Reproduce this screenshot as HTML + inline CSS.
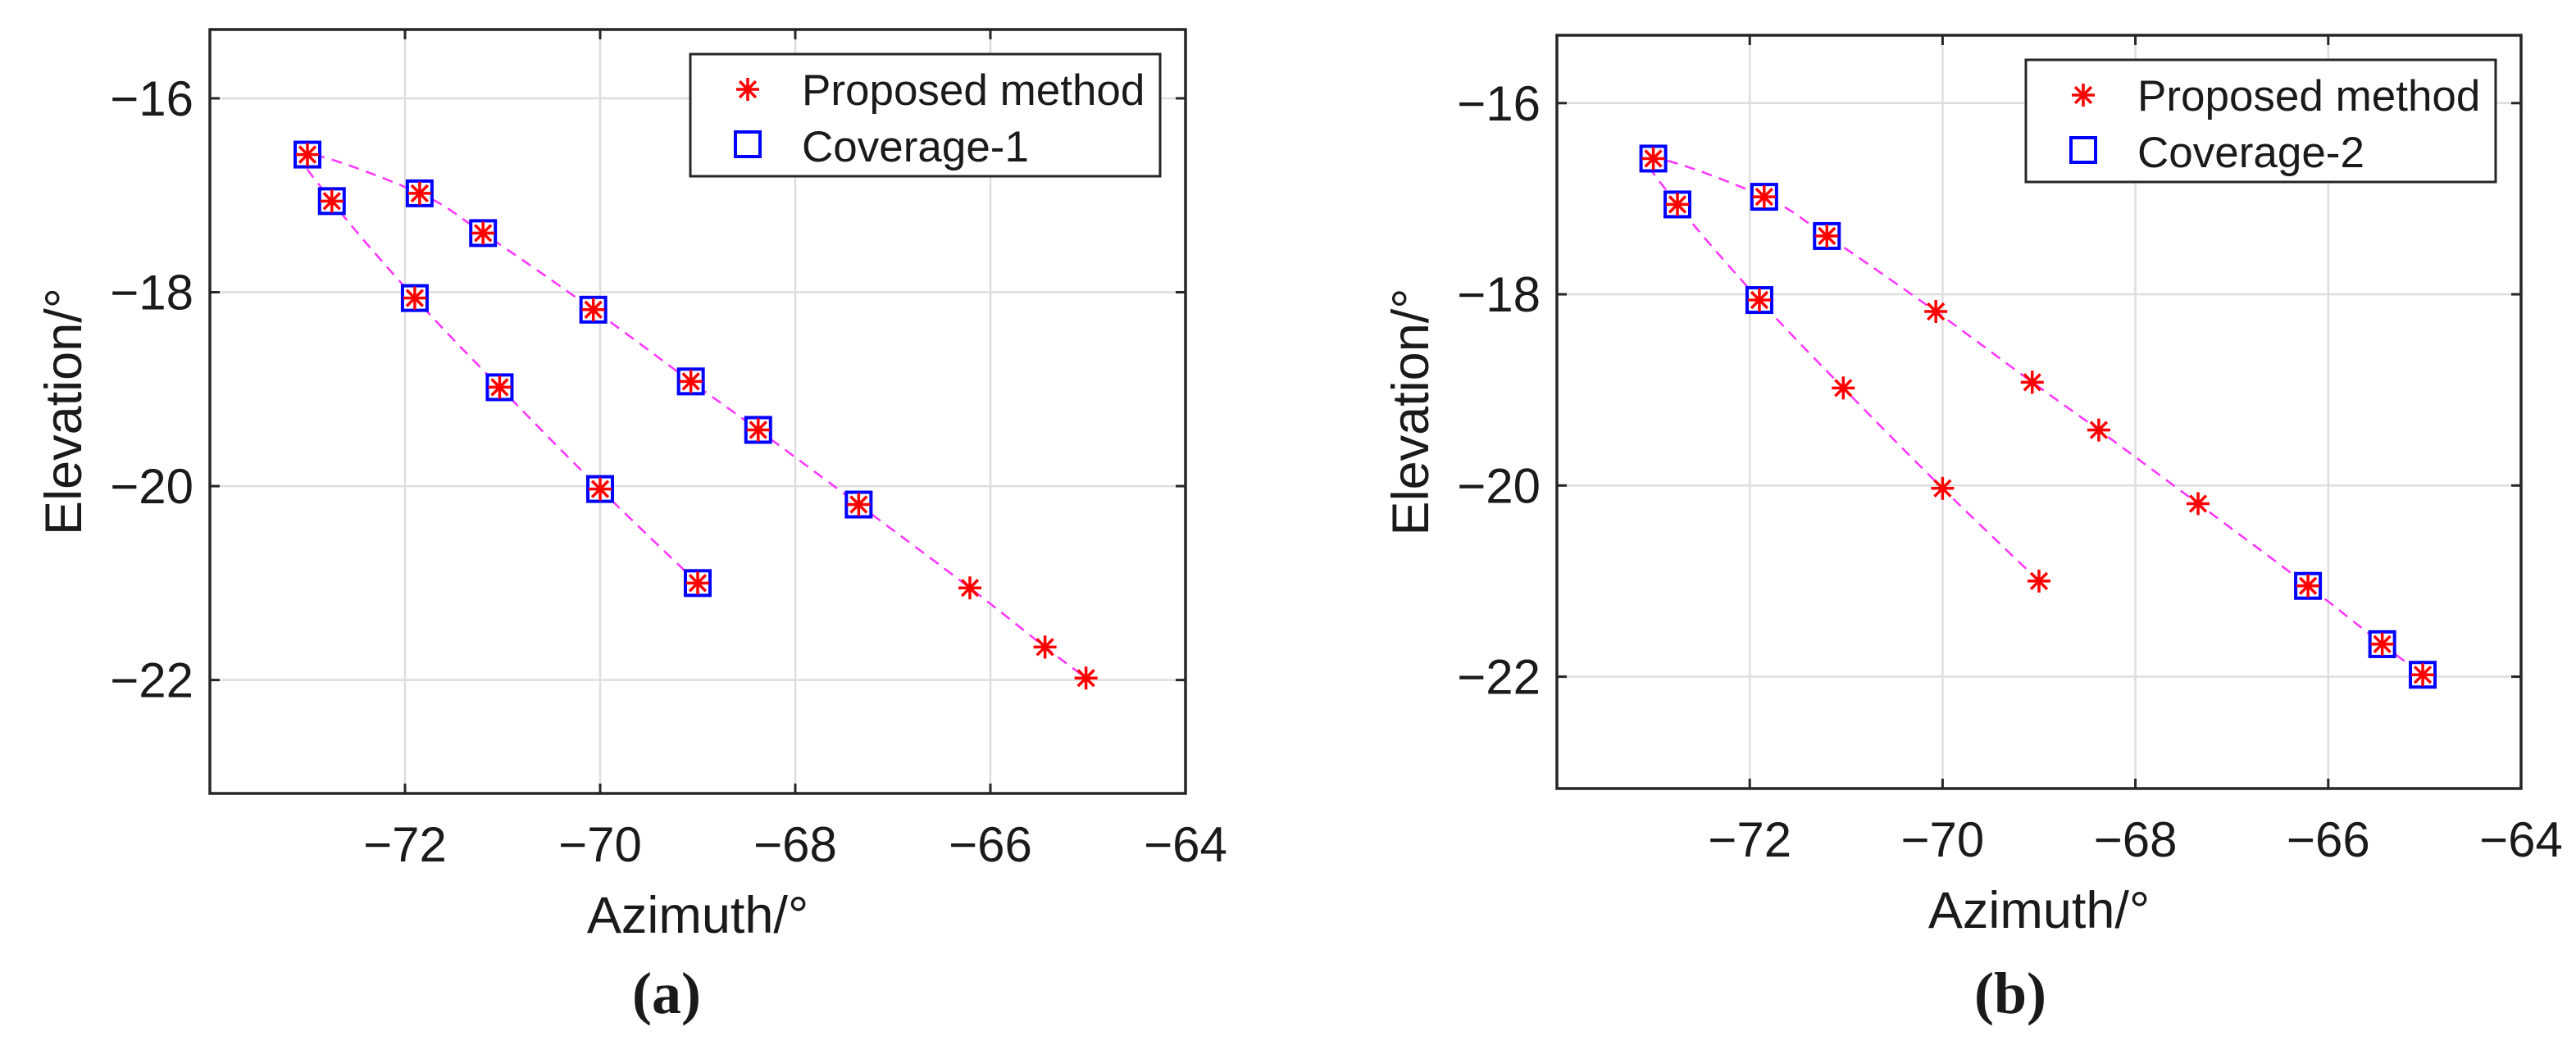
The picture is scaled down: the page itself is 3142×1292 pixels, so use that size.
<!DOCTYPE html>
<html><head><meta charset="utf-8">
<style>
html,body{margin:0;padding:0;background:#fff;}
svg{display:block;}
text{font-family:"Liberation Sans",Arial,sans-serif;fill:#1a1a1a;}
text.cap{font-family:"Liberation Serif","Times New Roman",serif;font-weight:bold;}
</style></head>
<body>
<svg id="fig" width="3142" height="1292" viewBox="0 0 3142 1292" xmlns="http://www.w3.org/2000/svg">
<text class="cap" x="813" y="1236" font-size="72" text-anchor="middle">(a)</text>
<text class="cap" x="2452" y="1236" font-size="72" text-anchor="middle">(b)</text>
</svg>
<script>
// Shared data
const xTicks = [-72, -70, -68, -66, -64];
const yTicks = [-16, -18, -20, -22];
const xTickLabels = ["\u221272", "\u221270", "\u221268", "\u221266", "\u221264"];
const yTickLabels = ["\u221216", "\u221218", "\u221220", "\u221222"];
// proposed method points: lower branch
const lowerAz = [-73.0, -72.75, -71.9, -71.03, -70.0, -69.0];
const lowerEl = [-16.58, -17.06, -18.06, -18.98, -20.03, -21.0];
// upper branch
const upperAz = [-71.85, -71.2, -70.07, -69.07, -68.38, -67.35, -66.21, -65.44, -65.02];
const upperEl = [-16.98, -17.39, -18.18, -18.92, -19.42, -20.19, -21.05, -21.66, -21.98];
// coverage points
const cov1Az = [-73.0, -72.75, -71.9, -71.03, -70.0, -69.0, -71.85, -71.2, -70.07, -69.07, -68.38, -67.35];
const cov1El = [-16.58, -17.06, -18.06, -18.98, -20.03, -21.0, -16.98, -17.39, -18.18, -18.92, -19.42, -20.19];
const cov2Az = [-73.0, -72.75, -71.9, -71.85, -71.2, -66.21, -65.44, -65.02];
const cov2El = [-16.58, -17.06, -18.06, -16.98, -17.39, -21.05, -21.66, -21.98];
const xDomain = [-74, -64];
const yDomain = [-23.17, -15.29];

const NS = "http://www.w3.org/2000/svg";
const svg = document.getElementById("fig");
function mk(tag, attrs, parent) {
  const e = document.createElementNS(NS, tag);
  for (const k in attrs) e.setAttribute(k, attrs[k]);
  (parent || svg).appendChild(e);
  return e;
}

function drawPanel(id, box, covAz, covEl, covLabel) {
  const g = mk("g", {});
  
  
  const sx = v => box.x0 + (v - xDomain[0]) / (xDomain[1] - xDomain[0]) * (box.x1 - box.x0);
  const sy = v => box.y1 - (v - yDomain[0]) / (yDomain[1] - yDomain[0]) * (box.y1 - box.y0);
  xTicks.forEach((t, i) => {
    const gl = mk("line", {x1: sx(t), x2: sx(t), y1: box.y0, y2: box.y1, stroke: "#dedede", "stroke-width": 2.5}, g);
    
    
  });
  yTicks.forEach((t, i) => {
    const gl = mk("line", {x1: box.x0, x2: box.x1, y1: sy(t), y2: sy(t), stroke: "#dedede", "stroke-width": 2.5}, g);
    
    
  });
  const px = [], py = [];
  for (let i = lowerAz.length - 1; i >= 0; i--) { px.push(sx(lowerAz[i])); py.push(sy(lowerEl[i])); }
  for (let i = 0; i < upperAz.length; i++) { px.push(sx(upperAz[i])); py.push(sy(upperEl[i])); }
  let d = "M" + px[0] + "," + py[0];
  for (let i = 0; i < px.length - 1; i++) {
    const p0x = px[Math.max(i - 1, 0)], p0y = py[Math.max(i - 1, 0)];
    const p3x = px[Math.min(i + 2, px.length - 1)], p3y = py[Math.min(i + 2, px.length - 1)];
    const c1x = px[i] + (px[i + 1] - p0x) / 6, c1y = py[i] + (py[i + 1] - p0y) / 6;
    const c2x = px[i + 1] - (p3x - px[i]) / 6, c2y = py[i + 1] - (p3y - py[i]) / 6;
    d += " C" + c1x + "," + c1y + " " + c2x + "," + c2y + " " + px[i + 1] + "," + py[i + 1];
  }
  const curve = mk("path", {d: d, fill: "none", stroke: "#ff33ff", "stroke-width": 2.5, "stroke-dasharray": "13 9"}, g);
  
  
  covAz.forEach((a, i) => {
    const r = mk("rect", {x: sx(a) - 15, y: sy(covEl[i]) - 15, width: 30, height: 30, fill: "#fff", stroke: "#0000ff", "stroke-width": 4}, g);
    
    
  });
  const starAz = lowerAz.concat(upperAz), starEl = lowerEl.concat(upperEl);
  function star(cx, cy, s, parent) {
    const sg = mk("g", {stroke: "#ff0000", "stroke-width": 3.5}, parent);
    for (let k = 0; k < 4; k++) {
      const ang = k * Math.PI / 4;
      mk("line", {x1: cx - s * Math.cos(ang), y1: cy - s * Math.sin(ang), x2: cx + s * Math.cos(ang), y2: cy + s * Math.sin(ang)}, sg);
    }
    return sg;
  }
  starAz.forEach((a, i) => {
    const s = star(sx(a), sy(starEl[i]), 14, g);
    
    
  });
  const ax = mk("rect", {x: box.x0, y: box.y0, width: box.x1 - box.x0, height: box.y1 - box.y0, fill: "none", stroke: "#262626", "stroke-width": 3.5}, g);
  
  
  xTicks.forEach((t, i) => {
    mk("line", {x1: sx(t), x2: sx(t), y1: box.y1, y2: box.y1 - 12, stroke: "#262626", "stroke-width": 3}, g);
    mk("line", {x1: sx(t), x2: sx(t), y1: box.y0, y2: box.y0 + 12, stroke: "#262626", "stroke-width": 3}, g);
    const tl = mk("text", {x: sx(t), y: box.y1 + 83, "font-size": 60, "text-anchor": "middle"}, g);
    tl.textContent = xTickLabels[i];
    
    
  });
  yTicks.forEach((t, i) => {
    mk("line", {x1: box.x0, x2: box.x0 + 12, y1: sy(t), y2: sy(t), stroke: "#262626", "stroke-width": 3}, g);
    mk("line", {x1: box.x1, x2: box.x1 - 12, y1: sy(t), y2: sy(t), stroke: "#262626", "stroke-width": 3}, g);
    const tl = mk("text", {x: box.x0 - 20, y: sy(t) + 21, "font-size": 60, "text-anchor": "end"}, g);
    tl.textContent = yTickLabels[i];
    
    
  });
  const xt = mk("text", {x: (box.x0 + box.x1) / 2, y: box.y1 + 170, "font-size": 63, "text-anchor": "middle"}, g);
  xt.textContent = "Azimuth/\u00b0";
  
  
  const cy = (box.y0 + box.y1) / 2;
  const yt = mk("text", {x: 0, y: 0, "font-size": 63, "text-anchor": "middle", transform: "translate(" + (box.x0 - 157) + "," + cy + ") rotate(-90)"}, g);
  yt.textContent = "Elevation/\u00b0";
  
  
  const lg = mk("g", {}, g);
  
  
  const lx0 = box.x1 - 604, lx1 = box.x1 - 31, ly0 = box.y0 + 30, ly1 = box.y0 + 179;
  mk("rect", {x: lx0, y: ly0, width: lx1 - lx0, height: ly1 - ly0, fill: "#fff", stroke: "#262626", "stroke-width": 3}, lg);
  const ls = star(lx0 + 70, ly0 + 43, 14, lg);
  
  
  const lr = mk("rect", {x: lx0 + 55, y: ly0 + 95, width: 30, height: 30, fill: "none", stroke: "#0000ff", "stroke-width": 4}, lg);
  
  
  const t1 = mk("text", {x: lx0 + 136, y: ly0 + 62, "font-size": 53}, lg);
  t1.textContent = "Proposed method";
  
  
  const t2 = mk("text", {x: lx0 + 136, y: ly0 + 131, "font-size": 53}, lg);
  t2.textContent = covLabel;
  
  
}

drawPanel("panel-a", {x0: 256, x1: 1446, y0: 36, y1: 968}, cov1Az, cov1El, "Coverage-1");
drawPanel("panel-b", {x0: 1899, x1: 3075, y0: 43, y1: 962}, cov2Az, cov2El, "Coverage-2");
</script>
</body></html>
